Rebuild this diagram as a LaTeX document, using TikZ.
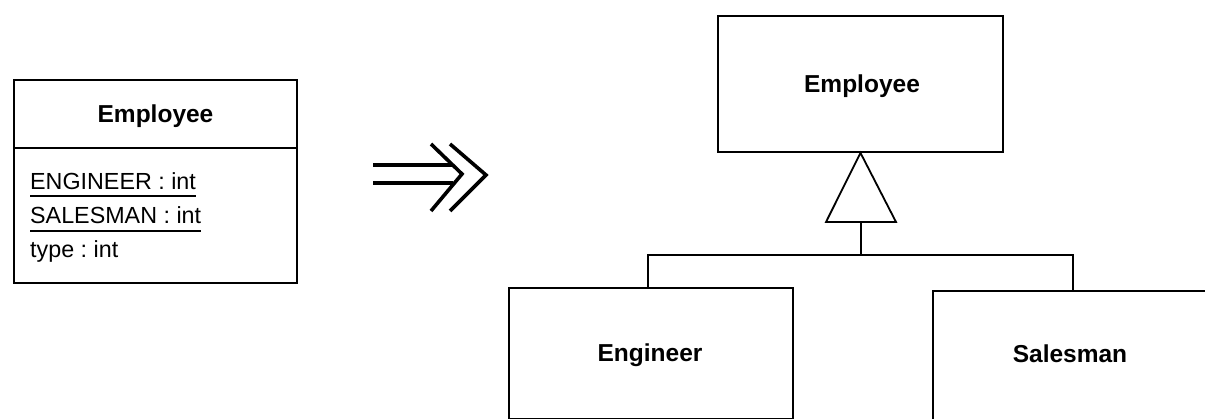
\documentclass[tikz,border=0pt]{standalone}
\usepackage{fontspec}
\setmainfont{Liberation Sans}
\frenchspacing
\begin{document}
\begin{tikzpicture}[x=1pt,y=-1pt,
  box/.style={draw,line width=1.8pt},
  ttl/.style={font=\fontsize{24.5}{28}\selectfont\bfseries,inner sep=0pt,anchor=base},
  attr/.style={font=\fontsize{23.3}{27}\selectfont,inner sep=0pt,anchor=base west},
  conn/.style={line width=1.8pt},
  arr/.style={line width=3.6pt}]
\useasboundingbox (0,0) rectangle (1205,419);
\begin{scope}
\clip (0,0) rectangle (1205,419);
% left class
\draw[box] (14,80) rectangle (297,283);
\draw[box] (14,148) -- (297,148);
\node[ttl] (t1) at (155.5,123) {Employee};
\node[attr] (a1) at (30,190) {ENGINEER : int};
\node[attr] (a2) at (30,224) {SALESMAN : int};
\node[attr] (a3) at (30,258) {type : int};
\draw[line width=1.8pt] ([yshift=-6pt]a1.base west) -- ([yshift=-6pt]a1.base east);
\draw[line width=1.8pt] ([yshift=-7pt]a2.base west) -- ([yshift=-7pt]a2.base east);
% arrow
\coordinate (l1s) at (373,165); \coordinate (l1e) at (453,165);
\coordinate (l2s) at (373,183); \coordinate (l2e) at (453,183);
\draw[arr] (l1s) -- (l1e);
\draw[arr] (l2s) -- (l2e);
\coordinate (c1a) at (431,144); \coordinate (c1b) at (462,174); \coordinate (c1c) at (431,211);
\coordinate (c2a) at (450,144); \coordinate (c2b) at (486,175); \coordinate (c2c) at (450,211);
\draw[arr,line join=miter] (c1a) -- (c1b) -- (c1c);
\draw[arr,line join=miter] (c2a) -- (c2b) -- (c2c);
% right side
\node[box,minimum width=285pt,minimum height=136pt,inner sep=0pt] (emp) at (860.5,84) {};
\node[ttl] (t2) at (862,93) {Employee};
\node[box,minimum width=284pt,minimum height=131pt,inner sep=0pt,anchor=north west] (eng) at (508,287) {};
\node[ttl] (t3) at (650,362) {Engineer};
\node[box,minimum width=300pt,minimum height=140pt,inner sep=0pt,anchor=north west] (sal) at (932,290) {};
\node[ttl] (t4) at (1070,363) {Salesman};
% generalization
\coordinate (apex) at (emp.south);
\coordinate (bl) at (826,222);
\coordinate (br) at (896,222);
\coordinate (tb) at (861,222);
\coordinate (jn) at (861,255);
\coordinate (jl) at (648,255);
\coordinate (jr) at (1073,255);
\draw[conn,line join=miter] (apex) -- (bl) -- (br) -- cycle;
\draw[conn] (tb) -- (jn);
\draw[conn] (jl |- eng.north) -- (jl) -- (jr) -- (jr |- sal.north);
\end{scope}
\end{tikzpicture}
\end{document}
